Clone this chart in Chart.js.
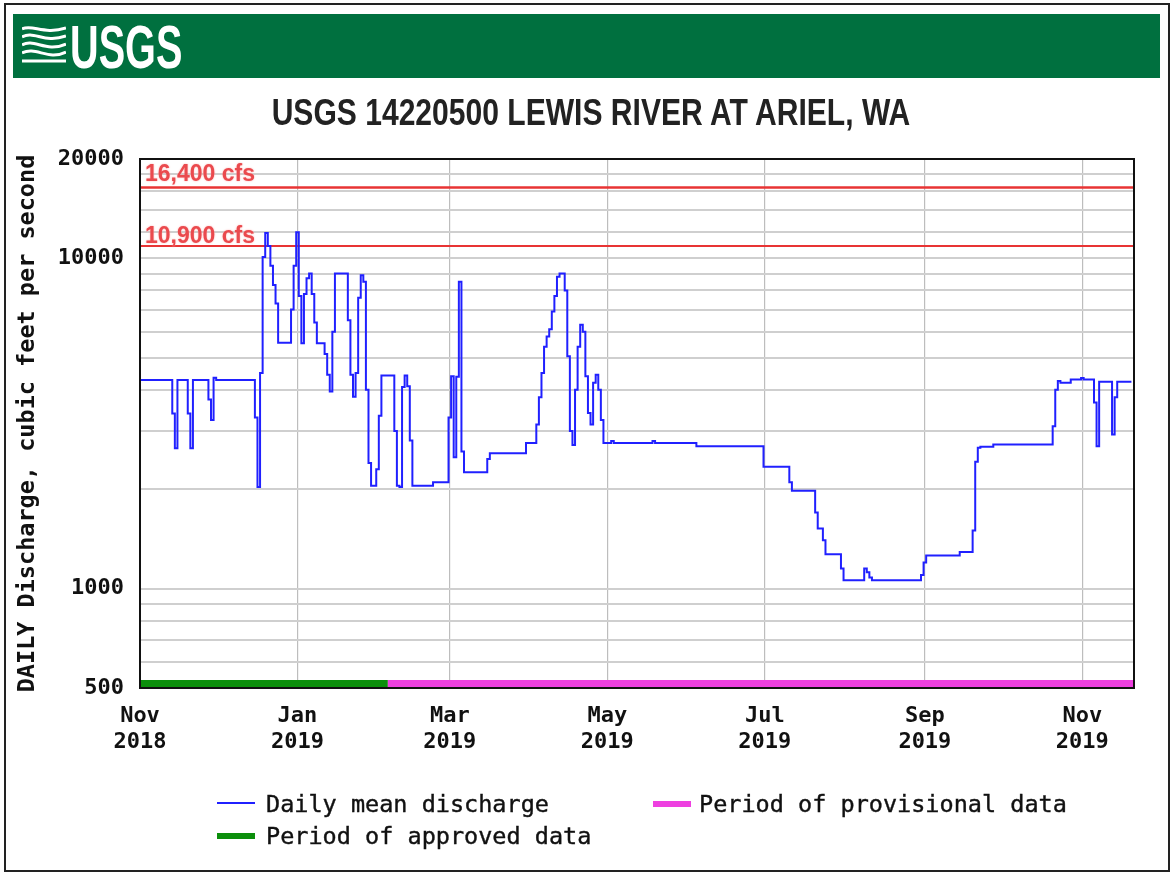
<!DOCTYPE html>
<html>
<head>
<meta charset="utf-8">
<script src="https://cdn.jsdelivr.net/npm/chart.js@4"></script>
<style>
  body { margin: 0; width: 1175px; height: 875px; position: relative; overflow: hidden; background: #fff; }
  #frame { position: absolute; left: 4px; top: 3px; width: 1166px; height: 869px; border: 2px solid #222; box-sizing: border-box; }
  #banner { position: absolute; left: 13px; top: 14px; width: 1147px; height: 64px; background: #00703f; }
  #logo { position: absolute; left: 70px; top: 16px; font: bold 62px/62px "Liberation Sans", Arial, sans-serif; color: #fff; transform: scaleX(0.64); transform-origin: left; }
  #waves { position: absolute; left: 22px; top: 25px; }
  #title { position: absolute; left: 0; top: 95px; width: 1182px; text-align: center; font: bold 36px/36px "Liberation Sans", Arial, sans-serif; color: #222; transform: scaleX(0.835); }
  canvas { position: absolute; left: 0; top: 0; }
  .lg { position: absolute; font: 23.5px/26px "DejaVu Sans Mono", monospace; color: #111; white-space: nowrap; -webkit-text-stroke: 0.4px #111; }
  .sw { position: absolute; width: 38px; }
</style>
</head>
<body>
<canvas id="chart" width="1175" height="875"></canvas>
<div id="frame"></div>
<div id="banner"></div>
<svg id="waves" width="44" height="40" viewBox="0 0 44 40">
  <g fill="none" stroke="#fff" stroke-width="3">
    <path d="M0 4 C10 -1 22 10 44 3"/>
    <path d="M0 12 C12 5 22 19 44 11"/>
    <path d="M0 20 C12 13 24 28 44 19"/>
    <path d="M0 28 C14 21 26 36 44 27"/>
    <path d="M0 36 L44 36"/>
  </g>
</svg>
<div id="logo">USGS</div>
<div id="title">USGS 14220500 LEWIS RIVER AT ARIEL, WA</div>

<div class="sw" style="left:217px; top:802px; height:2px; background:#2020ff;"></div>
<div class="lg" style="left:266px; top:791px;">Daily mean discharge</div>
<div class="sw" style="left:653px; top:801px; height:6px; background:#ee40e0;"></div>
<div class="lg" style="left:699px; top:791px;">Period of provisional data</div>
<div class="sw" style="left:217px; top:833px; height:6px; background:#0c8f0c;"></div>
<div class="lg" style="left:266px; top:823px;">Period of approved data</div>

<script>
// daily mean discharge (cfs), one value per day starting 2018-11-01 (day 0)
const discharge = [
  // Nov 2018
  4280,4280,4280,4280,4280,4280,4280,4280,4280,4280,4280,4280,4280,3390,2660,
  4280,4280,4280,4280,3390,2660,4280,4280,4280,4280,4280,4280,3740,3240,4350,
  // Dec 2018
  4280,4280,4280,4280,4280,4280,4280,4280,4280,4280,4280,4280,4280,4280,4280,
  3300,2030,4500,10100,11940,10900,9500,8300,7300,5550,5550,5550,5550,5550,7000,9500,
  // Jan 2019
  12000,7700,5530,7800,8700,9000,7800,6400,5530,5530,5530,5130,4440,3950,6000,
  9000,9000,9000,9000,9000,6500,4440,3810,4500,7600,8890,8500,4000,2400,2050,2050,
  // Feb 2019
  2300,3340,4420,4420,4420,4420,4420,3000,2050,2030,4080,4420,4100,2810,
  2050,2050,2050,2050,2050,2050,2050,2050,2100,2100,2100,2100,2100,2100,
  // Mar 2019
  3300,4400,2500,4380,8500,2600,2250,2250,2250,2250,2250,2250,2250,2250,2250,
  2470,2570,2570,2570,2570,2570,2570,2570,2570,2570,2570,2570,2570,2570,2570,2760,
  // Apr 2019
  2760,2760,2760,3140,3800,4500,5400,5800,6100,6900,7700,8800,9000,9000,8000,
  5050,3000,2720,4000,5400,6300,6000,4400,3400,3140,4200,4440,4000,3240,2760,
  // May 2019
  2760,2760,2800,2760,2760,2760,2760,2760,2760,2760,2760,2760,2760,2760,2760,
  2760,2760,2760,2800,2760,2760,2760,2760,2760,2760,2760,2760,2760,2760,2760,2760,
  // Jun 2019
  2760,2760,2760,2760,2700,2700,2700,2700,2700,2700,2700,2700,2700,2700,2700,
  2700,2700,2700,2700,2700,2700,2700,2700,2700,2700,2700,2700,2700,2700,2700,
  // Jul 2019
  2340,2340,2340,2340,2340,2340,2340,2340,2340,2340,2100,1980,1980,1980,1980,
  1980,1980,1980,1980,1980,1700,1520,1520,1400,1270,1270,1270,1270,1270,1270,1150,
  // Aug 2019
  1060,1060,1060,1060,1060,1060,1060,1060,1150,1120,1080,1060,1060,1060,1060,
  1060,1060,1060,1060,1060,1060,1060,1060,1060,1060,1060,1060,1060,1060,1060,1100,
  // Sep 2019
  1200,1260,1260,1260,1260,1260,1260,1260,1260,1260,1260,1260,1260,1260,1290,
  1290,1290,1290,1290,1500,2420,2670,2690,2690,2690,2690,2690,2730,2730,2730,
  // Oct 2019
  2730,2730,2730,2730,2730,2730,2730,2730,2730,2730,2730,2730,2730,2730,2730,
  2730,2730,2730,2730,2730,3100,4000,4250,4200,4200,4200,4200,4300,4300,4300,4300,
  // Nov 2019
  4340,4300,4300,4300,4300,3660,2700,4230,4230,4230,4230,4230,2930,3800,
  4230,4230,4230,4230,4230,4230
];

// x axis: days since 2018-11-01
const dayMax = 385;
const tickDays = [0, 61, 120, 181, 242, 304, 365];
const tickMonths = ['Nov', 'Jan', 'Mar', 'May', 'Jul', 'Sep', 'Nov'];
const tickYears = ['2018', '2019', '2019', '2019', '2019', '2019', '2019'];

// y axis (log)
const yGridValues = [500, 600, 700, 800, 900, 1000, 2000, 3000, 4000, 5000, 6000, 7000, 8000, 9000,
  10000, 12000, 14000, 16000, 18000, 20000];
const yLabelValues = [500, 1000, 10000, 20000];

// reference flows
const thresholds = [16400, 10900];
const thresholdLabels = ['16,400 cfs', '10,900 cfs'];
const labelLift = [6, 3];

// data approval periods (day ranges)
const approvedDays = [0, 96];
const provisionalDays = [96, 385];

const monoFont = '"DejaVu Sans Mono", monospace';

const overlay = {
  id: 'overlay',
  afterDatasetsDraw(chart) {
    const { ctx, chartArea: a, scales: { x, y } } = chart;
    ctx.save();
    ctx.fillStyle = '#0c8f0c';
    ctx.fillRect(x.getPixelForValue(approvedDays[0]), a.bottom - 8,
      x.getPixelForValue(approvedDays[1]) - x.getPixelForValue(approvedDays[0]), 8);
    ctx.fillStyle = '#ee40e0';
    ctx.fillRect(x.getPixelForValue(provisionalDays[0]), a.bottom - 8,
      x.getPixelForValue(provisionalDays[1]) - x.getPixelForValue(provisionalDays[0]), 8);

    ctx.font = 'bold 23px "Liberation Sans", Arial, sans-serif';
    ctx.fillStyle = '#ea4a4e';
    ctx.textBaseline = 'alphabetic';
    ctx.shadowColor = 'rgba(255,160,160,0.8)';
    ctx.shadowBlur = 2;
    thresholds.forEach((v, i) => {
      ctx.fillText(thresholdLabels[i], a.left + 5, y.getPixelForValue(v) - labelLift[i]);
    });
    ctx.shadowBlur = 0;

    ctx.strokeStyle = '#111';
    ctx.lineWidth = 2;
    ctx.strokeRect(a.left, a.top, a.right - a.left, a.bottom - a.top);
    ctx.restore();
  }
};

const flatLine = v => [{ x: 0, y: v }, { x: dayMax, y: v }];

new Chart(document.getElementById('chart'), {
  type: 'line',
  data: {
    datasets: [
      {
        label: 'Daily mean discharge',
        data: discharge.map((v, i) => ({ x: i, y: v })),
        borderColor: '#2020ff', borderWidth: 2, pointRadius: 0, stepped: 'middle'
      },
      { data: flatLine(thresholds[0]), borderColor: '#e83434', borderWidth: 2.5, pointRadius: 0 },
      { data: flatLine(thresholds[1]), borderColor: '#e83434', borderWidth: 2, pointRadius: 0 }
    ]
  },
  options: {
    responsive: false,
    animation: false,
    layout: { padding: { left: 0, top: 159, right: 41, bottom: 0 } },
    plugins: { legend: { display: false }, tooltip: { enabled: false } },
    scales: {
      x: {
        type: 'linear', min: 0, max: dayMax,
        afterBuildTicks: s => { s.ticks = tickDays.map(v => ({ value: v })); },
        afterFit: s => { s.height = 187; },
        border: { display: false },
        grid: { color: '#bdbdbd', lineWidth: 1.2, drawTicks: false },
        ticks: {
          padding: 15, color: '#111', maxRotation: 0, autoSkip: false,
          font: { family: monoFont, size: 22, weight: 'bold', lineHeight: 1.2 },
          callback: (v, i) => [tickMonths[i], tickYears[i]]
        }
      },
      y: {
        type: 'logarithmic', min: 500, max: 20000,
        afterBuildTicks: s => { s.ticks = yGridValues.map(v => ({ value: v })); },
        afterFit: s => { s.width = 140; },
        border: { display: false },
        grid: { color: '#cfcfcf', lineWidth: 2, drawTicks: false },
        ticks: {
          padding: 16, color: '#111', autoSkip: false,
          font: { family: monoFont, size: 22, weight: 'bold' },
          callback: v => yLabelValues.includes(v) ? String(v) : ''
        },
        title: {
          display: true, text: 'DAILY Discharge, cubic feet per second', color: '#111',
          font: { family: monoFont, size: 23.5, weight: 'bold' },
          padding: { top: 14, bottom: 0 }
        }
      }
    }
  },
  plugins: [overlay]
});
</script>
</body>
</html>
